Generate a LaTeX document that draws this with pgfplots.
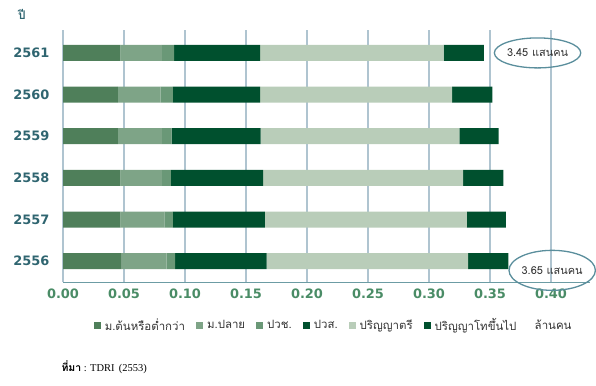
\documentclass[border=0pt]{standalone}
\usepackage{fontspec}
\usepackage{pgfplots}
\usepackage{pgfplotstable}
\pgfplotsset{compat=1.18}
\usetikzlibrary{shapes.geometric}
\setmainfont{DejaVu Sans}
\newfontfamily\thaifont[Script=Thai]{Loma}
\newfontfamily\tickfont{DejaVu Sans}
\newfontfamily\notefont{Liberation Serif}

\definecolor{cLower}{HTML}{4F7F5A}
\definecolor{cUpper}{HTML}{7EA487}
\definecolor{cVoc}{HTML}{6A9877}
\definecolor{cHVoc}{HTML}{00502E}
\definecolor{cBach}{HTML}{B9CDB9}
\definecolor{cGrad}{HTML}{00502E}
\definecolor{gridcol}{HTML}{AFC4D0}
\definecolor{xtickcol}{HTML}{4A8C66}
\definecolor{ytickcol}{HTML}{2F6570}
\definecolor{ellcol}{HTML}{5A8E9C}
\definecolor{axiscol}{HTML}{6C9CA4}

\pgfplotsset{sqlegend/.style={legend image code/.code={\fill[##1] (0bp,-3.5bp) rectangle (7bp,3.5bp);}}}

% labour supply by education level, million persons
\pgfplotstableread{
y lower upper voc hvoc bach grad
0 0.048 0.037 0.007 0.075 0.165 0.033
1 0.047 0.036 0.007 0.0755 0.1655 0.032
2 0.047 0.034 0.0075 0.0755 0.164 0.033
3 0.045 0.036 0.008 0.073 0.163 0.032
4 0.045 0.035 0.010 0.0715 0.1575 0.033
5 0.047 0.034 0.010 0.0705 0.1505 0.033
}\datatable

\begin{document}
\begin{tikzpicture}[x=1bp,y=1bp]
\path[use as bounding box] (0,0) rectangle (596,385);
\begin{axis}[
  at={(63bp,103bp)}, anchor=south west, scale only axis,
  width=527bp, height=252bp,
  xbar stacked, bar width=16bp,
  xmin=0, xmax=0.432, ymin=-0.5, ymax=5.55,
  ytick={0,1,2,3,4,5},
  yticklabels={2556,2557,2558,2559,2560,2561},
  xtick={0,0.05,0.1,0.15,0.2,0.25,0.3,0.35,0.4},
  xticklabel={\pgfmathprintnumber[fixed,fixed zerofill,precision=2,assume math mode=true]{\tick}},
  xmajorgrids,
  grid style={color=gridcol, line width=1.2bp},
  axis x line*=bottom, axis y line*=left,
  x axis line style={-, color=axiscol, line width=1bp},
  y axis line style={-, color=gridcol, line width=0.8bp},
  tick style={draw=none},
  xticklabel style={font=\tickfont\bfseries\fontsize{13}{13}\selectfont, text=xtickcol, yshift=-3bp},
  yticklabel style={font=\tickfont\bfseries\fontsize{13}{13}\selectfont, text=ytickcol, xshift=-10bp},
  legend columns=-1,
  legend style={at={(rel axis cs:0.058,-0.171)}, anchor=west, draw=none, fill=none,
    font=\thaifont\fontsize{11.5}{11.5}\selectfont, text=black!80,
    /tikz/every odd column/.append style={column sep=2bp},
    /tikz/every even column/.append style={column sep=9bp},
    inner sep=0pt},
  clip=false,
]
\addplot[fill=cLower, draw=none, sqlegend] table[x=lower, y=y] {\datatable};
\addplot[fill=cUpper, draw=none, sqlegend] table[x=upper, y=y] {\datatable};
\addplot[fill=cVoc, draw=none, sqlegend] table[x=voc, y=y] {\datatable};
\addplot[fill=cHVoc, draw=none, sqlegend] table[x=hvoc, y=y] {\datatable};
\addplot[fill=cBach, draw=none, sqlegend] table[x=bach, y=y] {\datatable};
\addplot[fill=cGrad, draw=none, sqlegend] table[x=grad, y=y] {\datatable};
\legend{ม.ต้นหรือต่ำกว่า, ม.ปลาย, ปวช., ปวส., ปริญญาตรี, ปริญญาโทขึ้นไป}

\node[draw=ellcol, line width=1.3bp, ellipse, minimum width=84bp, minimum height=30bp,
  inner sep=0pt, font=\thaifont\fontsize{11}{11}\selectfont, text=black!80]
  at (axis cs:0.389,5) {3.45 แสนคน};
\node[draw=ellcol, line width=1.3bp, ellipse, minimum width=82bp, minimum height=40bp,
  inner sep=0pt, font=\thaifont\fontsize{11}{11}\selectfont, text=black!80]
  at (axis cs:0.401,-0.22) {3.65 แสนคน};
\node[font=\thaifont\fontsize{11.5}{11.5}\selectfont, text=black!80]
  at (rel axis cs:0.93,-0.171) {ล้านคน};
\node[font=\thaifont\bfseries\fontsize{12}{12}\selectfont, text=ytickcol]
  at (rel axis cs:-0.078,1.06) {ปี};
\end{axis}
\node[anchor=west, font=\fontsize{10.5}{10.5}\selectfont] at (58,18)
  {{\thaifont\bfseries ที่มา}\notefont{} : TDRI\, (2553)};
\end{tikzpicture}
\end{document}
